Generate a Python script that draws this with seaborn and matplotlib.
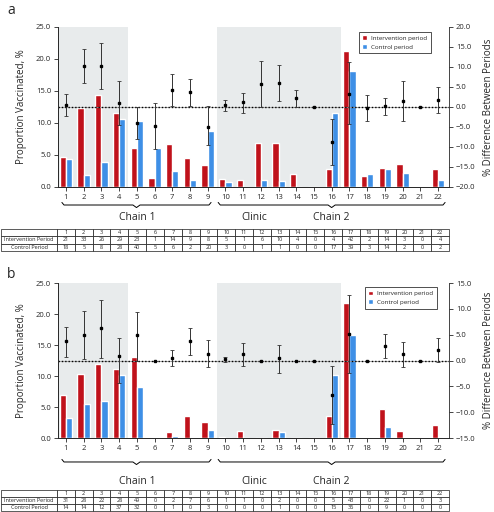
import numpy as np
import pandas as pd
import matplotlib
matplotlib.use("Agg")
import matplotlib.pyplot as plt
import matplotlib.transforms as mtransforms
import seaborn as sns

# Sitios (1 a 22)
sitios = [str(i) for i in range(1, 23)]
periodos = ["Intervention period", "Control period"]

# Panel a
a_interv = [4.7, 12.3, 14.3, 11.6, 6.1, 1.4, 6.7, 4.6, 3.5, 1.2, 1.1, 6.8, 6.8, 2.1, 0, 2.8, 21.3, 1.7, 3.0, 3.6, 0, 2.8]
a_control = [4.3, 1.9, 3.9, 10.7, 10.3, 6.1, 2.5, 1.1, 8.7, 0.8, 0, 1.1, 1.0, 0, 0, 11.5, 18.1, 2.1, 2.8, 2.2, 0, 1.1]
a_diff = [0.6, 10.3, 10.3, 1.0, -4.0, -4.7, 4.3, 3.7, -5.1, 0.4, 1.2, 5.8, 5.9, 2.2, 0, -8.7, 3.3, -0.2, 0.2, 1.5, 0, 1.7]
a_low = [-2.2, 6.0, 4.5, -4.5, -7.9, -10.6, 0.2, 0.2, -9.4, -1.0, -1.5, 0, 1.4, 0, 0, -14.6, -4.3, -3.6, -1.9, -3.5, 0, -1.5]
a_high = [3.3, 14.6, 16.1, 6.4, 0, 1.1, 8.3, 6.9, 0.2, 1.8, 3.5, 11.6, 10.5, 4.3, 0, -2.9, 11.2, 3.1, 2.3, 6.4, 0, 5.0]
a_n_interv = [21, 33, 26, 29, 23, 1, 14, 9, 8, 5, 1, 6, 10, 4, 0, 4, 42, 2, 14, 3, 0, 4]
a_n_control = [18, 5, 8, 28, 40, 5, 6, 2, 20, 3, 0, 1, 1, 0, 0, 17, 39, 3, 14, 2, 0, 2]

# Panel b
b_interv = [7.0, 10.3, 11.9, 11.2, 13.1, 0, 0.9, 3.5, 2.6, 0.2, 1.1, 0, 1.3, 0, 0, 3.5, 21.8, 0, 4.7, 1.2, 0, 2.1]
b_control = [3.3, 5.5, 5.9, 10.2, 8.2, 0, 0.4, 0, 1.3, 0, 0, 0, 0.9, 0, 0, 10.2, 16.6, 0, 1.7, 0, 0, 0]
b_diff = [3.7, 4.9, 6.2, 0.8, 5.0, 0, 0.5, 3.7, 1.3, 0.2, 1.2, 0, 0.4, 0, 0, -6.7, 5.1, 0, 2.9, 1.2, 0, 2.1]
b_low = [0.6, 0.2, 0.4, -4.4, 0, 0, -1.0, 1.0, -1.3, -0.3, -1.1, 0, -2.4, 0, 0, -12.3, -2.5, 0, 0.5, -1.2, 0, -0.2]
b_high = [6.5, 9.5, 11.8, 4.4, 9.3, 0, 2.1, 6.2, 3.9, 0.7, 3.3, 0, 3.1, 0, 0, -1.0, 12.7, 0, 5.1, 3.5, 0, 4.4]
b_n_interv = [31, 28, 22, 28, 49, 0, 2, 7, 6, 1, 1, 0, 2, 0, 0, 5, 43, 0, 22, 1, 0, 3]
b_n_control = [14, 14, 12, 37, 32, 0, 1, 0, 3, 0, 0, 0, 1, 0, 0, 15, 36, 0, 9, 0, 0, 0]

rojo = "#c0121b"
azul = "#3e8fe6"
gris = "#e8ebec"

sns.set_theme(style="ticks")
plt.rcParams['font.family'] = ['Open Sans', 'DejaVu Sans']
plt.rcParams['axes.linewidth'] = 0.6

fig = plt.figure(figsize=(4.94, 5.12), dpi=100)


def llave(ax, x0, x1, y, h):
    tr = mtransforms.blended_transform_factory(ax.transData, fig.transFigure)
    xm = (x0 + x1) / 2
    xs = [x0, x0 + 0.12, xm - 0.2, xm, xm + 0.2, x1 - 0.12, x1]
    ys = [y + h, y, y, y - h, y, y, y + h]
    ax.plot(xs, ys, transform=tr, color='black', lw=0.7, clip_on=False)


def panel(rect, interv, control, diff, low, high, n_int, n_con, lim2,
          leg_anchor, y_llave, y_texto, rect_tabla, letra, y_letra):
    ax = fig.add_axes(rect)
    df = pd.DataFrame({
        "sitio": sitios * 2,
        "valor": interv + control,
        "periodo": [periodos[0]] * 22 + [periodos[1]] * 22,
    })
    ax.axvspan(-0.5, 3.5, color=gris, zorder=0, lw=0)
    ax.axvspan(8.5, 15.5, color=gris, zorder=0, lw=0)
    sns.barplot(data=df, x="sitio", y="valor", hue="periodo", hue_order=periodos,
                palette=[rojo, azul], width=0.7, saturation=1, ax=ax, zorder=2)
    ax.set_xlim(-0.45, 21.62)
    ax.set_ylim(0, 25)
    ax.set_yticks(np.arange(0, 26, 5))
    ax.set_yticklabels(["%.1f" % v for v in np.arange(0, 26, 5)])
    ax.set_xlabel("")
    ax.set_ylabel("Proportion Vaccinated, %", fontsize=7, labelpad=6)
    ax.tick_params(labelsize=5.5, length=3, width=0.6, pad=2)
    ax.spines['top'].set_visible(False)
    ax.spines['right'].set_visible(False)
    handles, labels = ax.get_legend_handles_labels()
    ax.get_legend().remove()

    ax2 = ax.twinx()
    x = np.arange(22)
    d = np.array(diff)
    err = [d - np.array(low), np.array(high) - d]
    ax2.axhline(0, color='#999999', lw=0.6, zorder=1)
    ax2.axhline(0, color='black', lw=1.0, ls=(0, (1, 1.4)), zorder=2)
    ax2.errorbar(x, d, yerr=err, fmt='s', ms=2, color='black', ecolor='#333333',
                 elinewidth=0.7, capsize=1.6, capthick=0.6, zorder=3)
    ax2.set_ylim(-lim2, lim2)
    t = np.arange(-lim2, lim2 + 1, 5)
    ax2.set_yticks(t)
    ax2.set_yticklabels([("%.1f" % v).replace("-", "\u2212") for v in t])
    ax2.set_ylabel("% Difference Between Periods", fontsize=7, labelpad=5)
    ax2.tick_params(labelsize=5.5, length=3, width=0.6, pad=2)
    ax2.spines['top'].set_visible(False)
    leg = ax2.legend(handles, labels, loc='upper right', bbox_to_anchor=leg_anchor,
                     fontsize=4.5, frameon=True, fancybox=False, edgecolor='black',
                     handlelength=0.8, handleheight=0.8, borderpad=0.6,
                     labelspacing=0.5, handletextpad=0.6)
    leg.get_frame().set_linewidth(0.6)

    llave(ax, -0.23, 8.19, y_llave, 0.005)
    llave(ax, 8.59, 21.4, y_llave, 0.005)
    tr = mtransforms.blended_transform_factory(ax.transData, fig.transFigure)
    ax.text(4.0, y_texto, "Chain 1", transform=tr, ha='center', va='center', fontsize=7.5)
    ax.text(10.6, y_texto, "Clinic", transform=tr, ha='center', va='center', fontsize=7.5)
    ax.text(15.0, y_texto, "Chain 2", transform=tr, ha='center', va='center', fontsize=7.5)
    fig.text(0.014, y_letra, letra, fontsize=10, ha='left', va='center')

    axt = fig.add_axes(rect_tabla)
    axt.axis('off')
    filas = [[""] + sitios,
             ["Intervention Period"] + [str(v) for v in n_int],
             ["Control Period"] + [str(v) for v in n_con]]
    anchos = [0.125] + [0.875 / 22] * 22
    tab = axt.table(cellText=filas, cellLoc='center', colWidths=anchos, bbox=[0, 0, 1, 1])
    tab.auto_set_font_size(False)
    tab.set_fontsize(4)
    for (r, c), cell in tab.get_celld().items():
        cell.set_linewidth(0.5)
        if c == 0:
            cell._loc = 'left'
            cell.PAD = 0.03
    return ax


panel([0.1174, 0.6348, 0.7915, 0.3125], a_interv, a_control, a_diff, a_low, a_high,
      a_n_interv, a_n_control, 20, (0.962, 0.99), 0.5996, 0.576,
      [0.002, 0.5098, 0.907, 0.043], "a", 0.979)
panel([0.1174, 0.1445, 0.7915, 0.3027], b_interv, b_control, b_diff, b_low, b_high,
      b_n_interv, b_n_control, 15, (0.977, 0.995), 0.0977, 0.0586,
      [0.002, 0.002, 0.907, 0.041], "b", 0.463)

fig.savefig("out.png", dpi=100)
